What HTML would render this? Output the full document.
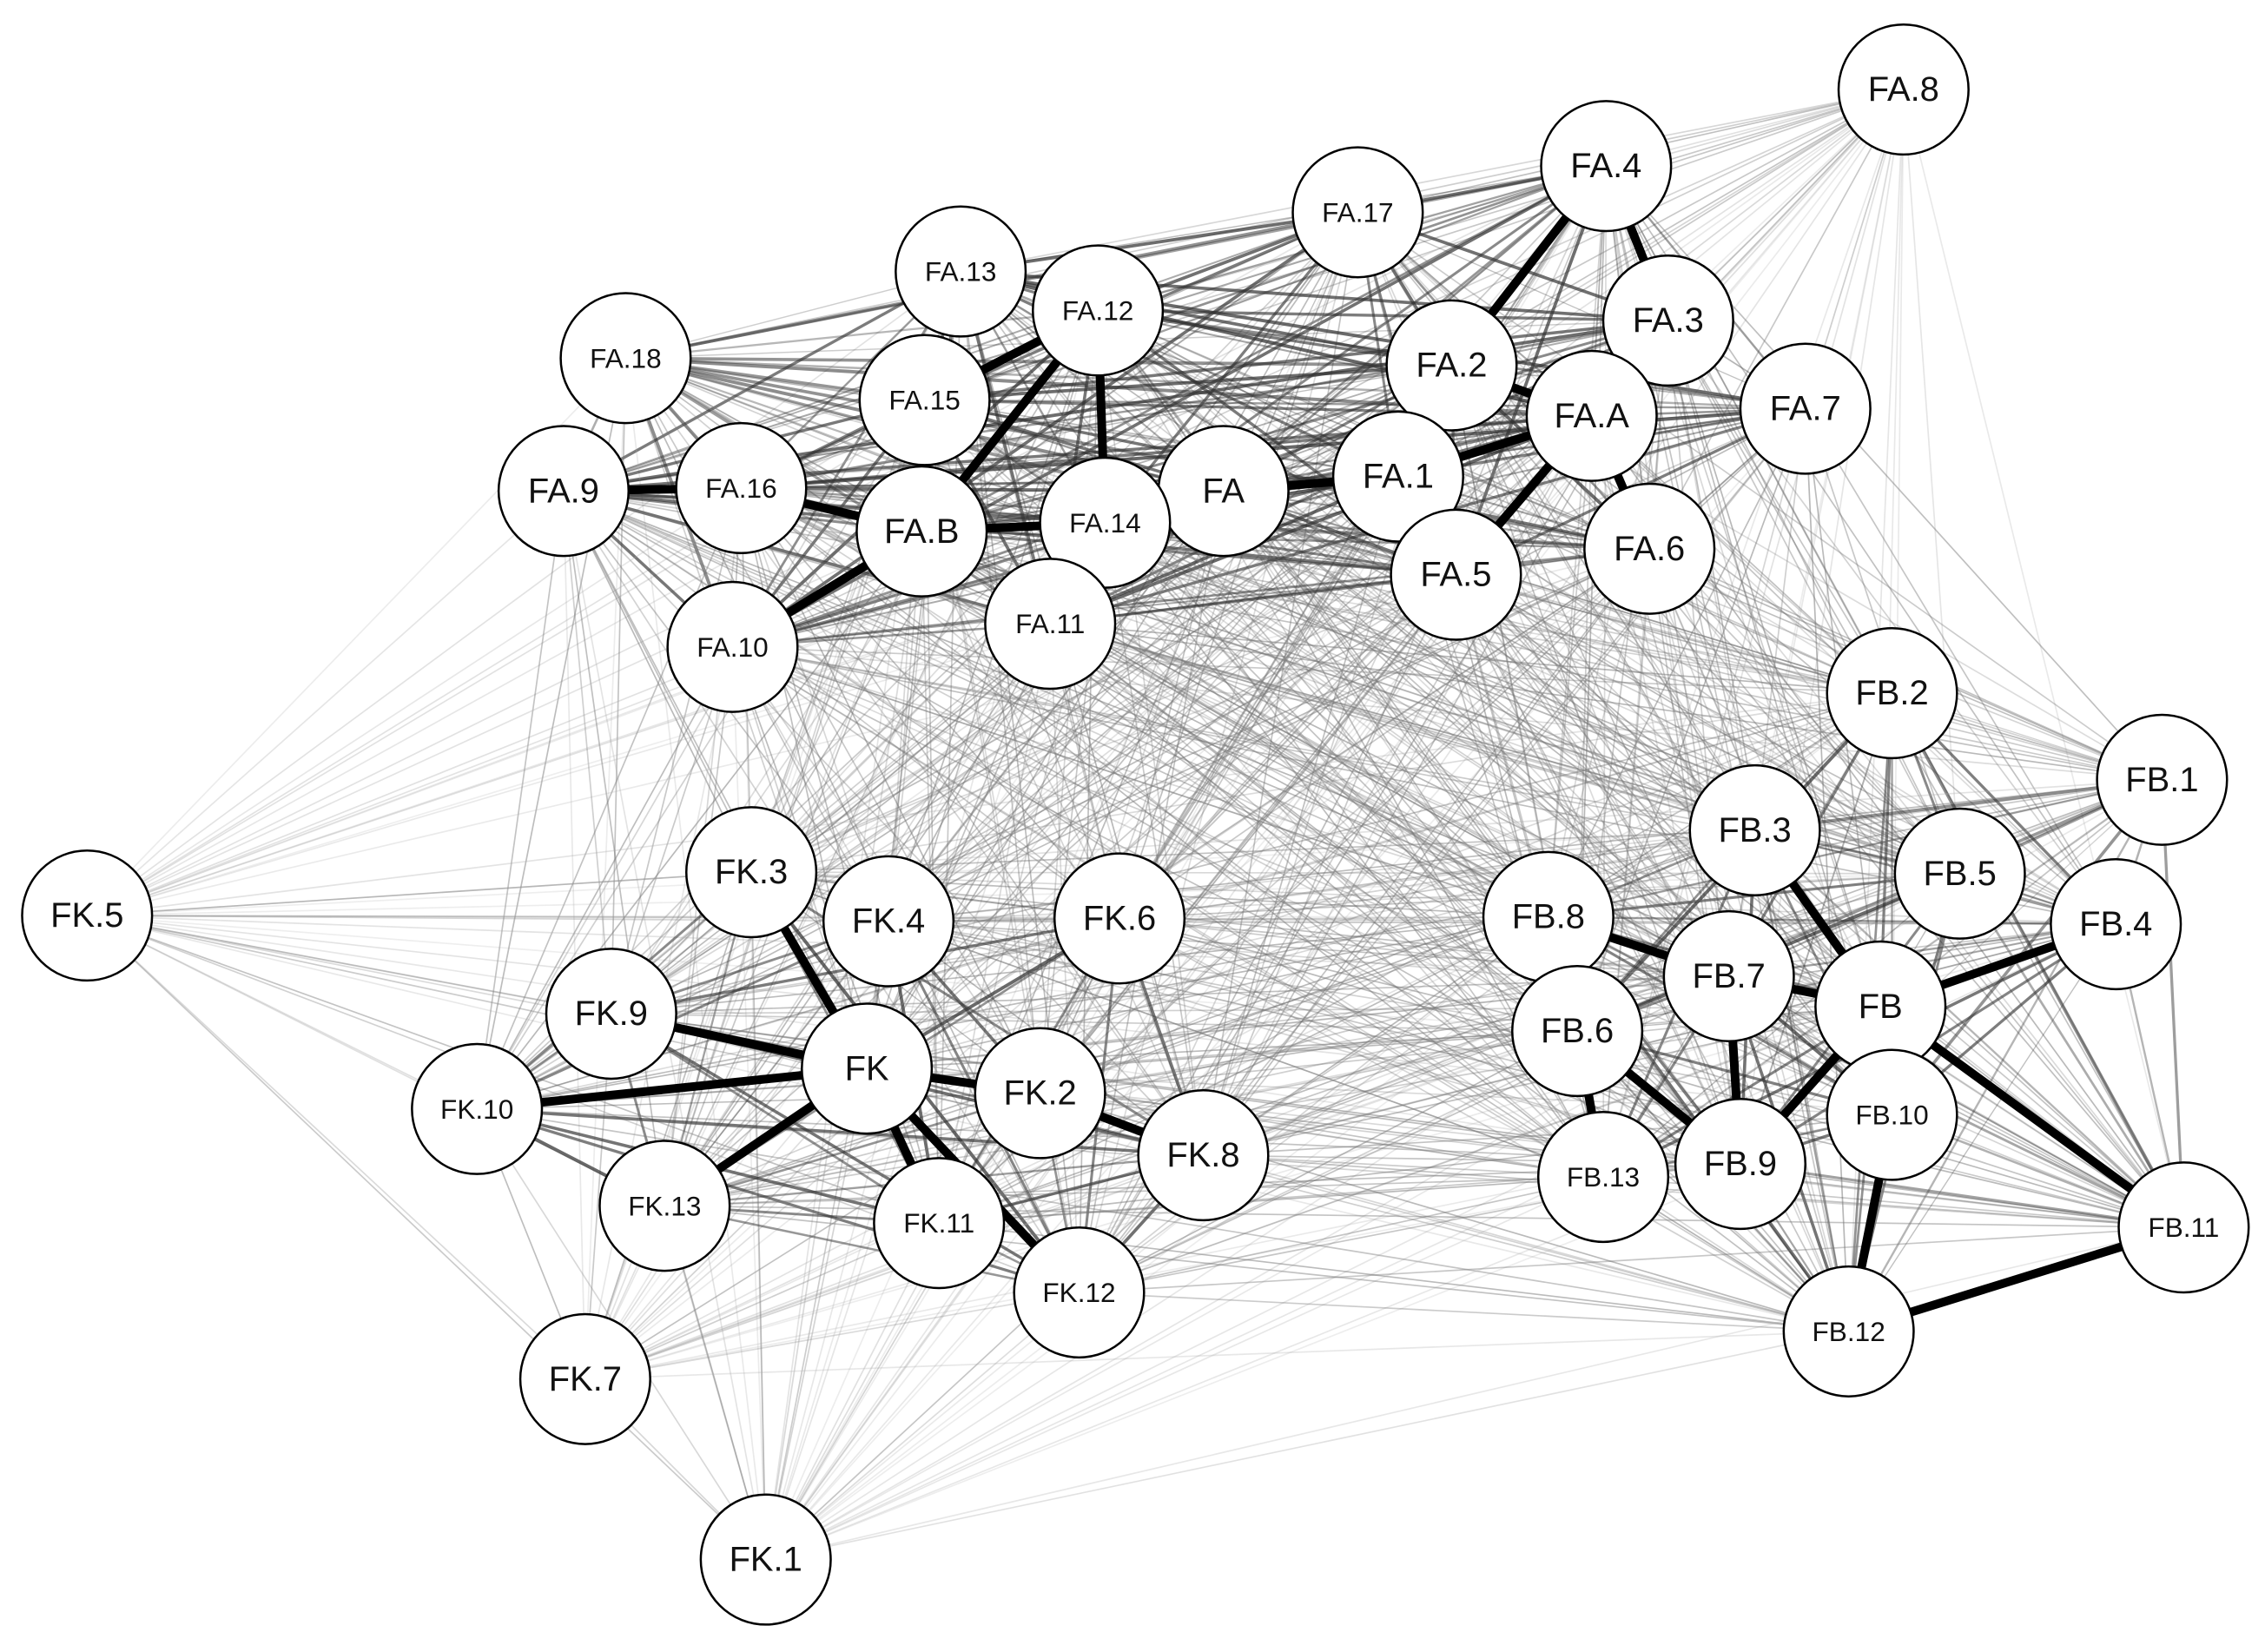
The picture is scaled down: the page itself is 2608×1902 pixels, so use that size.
<!DOCTYPE html>
<html><head><meta charset="utf-8"><style>
html,body{margin:0;padding:0;background:#fff;}
svg{display:block;}
text{font-family:"Liberation Sans",Arial,sans-serif;text-anchor:middle;dominant-baseline:central;fill:#111;}
</style></head><body>
<svg id="g" width="2608" height="1902" viewBox="0 0 1568 1144" xmlns="http://www.w3.org/2000/svg">
<g id="edges"></g><g id="nodes"></g>
</svg>
<script>
var N=[["FA.8",1318,62],["FA.4",1112,115],["FA.17",940,147],["FA.13",665,188],["FA.12",760,215],["FA.3",1155,222],["FA.18",433,248],["FA.2",1005,253],["FA.15",640,277],["FA.A",1102,288],["FA.7",1250,283],["FA.9",390,340],["FA.16",513,338],["FA",847,340],["FA.1",968,330],["FA.B",638,368],["FA.14",765,362],["FA.6",1142,380],["FA.5",1008,398],["FA.11",727,432],["FA.10",507,448],["FB.2",1310,480],["FB.1",1497,540],["FB.3",1215,575],["FB.5",1357,605],["FK.5",60,634],["FK.3",520,604],["FK.4",615,638],["FK.6",775,636],["FB.8",1072,635],["FB.4",1465,640],["FB.7",1197,676],["FB",1302,697],["FK.9",423,702],["FB.6",1092,714],["FK",600,740],["FK.10",330,768],["FK.2",720,757],["FB.10",1310,772],["FK.8",833,800],["FB.9",1205,806],["FB.13",1110,815],["FK.13",460,835],["FK.11",650,847],["FB.11",1512,850],["FK.12",747,895],["FB.12",1280,922],["FK.7",405,955],["FK.1",530,1080]];
var P={};N.forEach(function(n){P[n[0]]=n;});
var periph={"FA.8":1,"FK.5":1,"FK.1":1,"FK.7":1,"FA.18":0.6,"FB.1":0.6,"FB.11":0.6};
var thick=[["FA","FA.1"],["FA.1","FA.A"],["FA.2","FA.A"],["FA.4","FA.2"],["FA.4","FA.3"],["FA.B","FA.16"],["FA.B","FA.14"],["FA.B","FA.12"],["FA.12","FA.14"],["FA.A","FA.5"],["FA.2","FA.1"],["FA.B","FA.10"],["FA.16","FA.9"],["FA.15","FA.12"],["FA.A","FA.6"],["FK","FK.9"],["FK","FK.10"],["FK","FK.2"],["FK","FK.13"],["FK","FK.11"],["FK","FK.12"],["FK.3","FK"],["FK.2","FK.8"],["FB","FB.11"],["FB.11","FB.12"],["FB","FB.9"],["FB","FB.7"],["FB.3","FB"],["FB.6","FB.9"],["FB.7","FB.9"],["FB","FB.4"],["FB.12","FB.10"],["FB.8","FB.7"],["FB.6","FB.13"]];
var E=document.getElementById("edges"),ns="http://www.w3.org/2000/svg";
function cl(s){return s.split(".")[0];}
var seed=7;function rnd(){seed=(seed*16807)%2147483647;return seed/2147483647;}
function line(a,b,c,w,o){var l=document.createElementNS(ns,"line");l.setAttribute("x1",a[1]);l.setAttribute("y1",a[2]);l.setAttribute("x2",b[1]);l.setAttribute("y2",b[2]);l.setAttribute("stroke",c);l.setAttribute("stroke-width",w);l.setAttribute("stroke-opacity",o);E.appendChild(l);}
for(var i=0;i<N.length;i++)for(var j=i+1;j<N.length;j++){var a=N[i],b=N[j],r=rnd();
 var p=Math.max(periph[a[0]]||0,periph[b[0]]||0);
 if(cl(a[0])==cl(b[0])){
   if(p>=1) line(a,b,"#888",1,0.25+r*0.3);
   else line(a,b,"#333",0.8+r*1.6,(0.3+r*0.45)*(1-p*0.4));
 }
 else if(r<0.8){line(a,b,p>=1?"#aaa":"#777",1,p>=1?0.2+r*0.2:0.25+r*0.35);}}
thick.forEach(function(t){line(P[t[0]],P[t[1]],"#000",6,1);});
var G=document.getElementById("nodes");
N.forEach(function(n){var c=document.createElementNS(ns,"circle");c.setAttribute("cx",n[1]);c.setAttribute("cy",n[2]);c.setAttribute("r",45);c.setAttribute("fill","#fff");c.setAttribute("stroke","#000");c.setAttribute("stroke-width",1.5);G.appendChild(c);
var t=document.createElementNS(ns,"text");t.setAttribute("x",n[1]);t.setAttribute("y",n[2]);t.setAttribute("font-size",n[0].length>4?19:24);t.textContent=n[0];G.appendChild(t);});
</script>
</body></html>
